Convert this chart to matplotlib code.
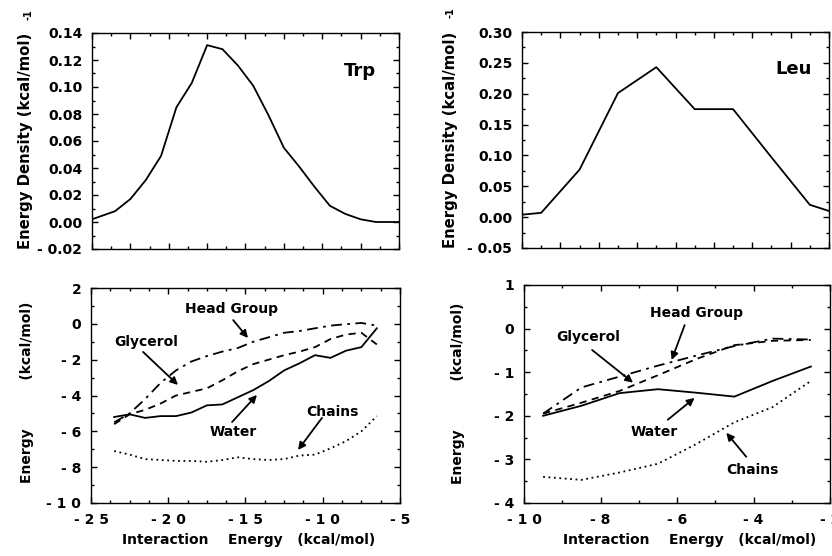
import matplotlib
matplotlib.use("Agg")
import matplotlib.pyplot as plt
from matplotlib.ticker import MultipleLocator, FuncFormatter

# Trp: energy density
trp_x = [-25, -23.5, -22.5, -21.5, -20.5, -19.5, -18.5, -17.5, -16.5, -15.5, -14.5,
         -13.5, -12.5, -11.5, -10.5, -9.5, -8.5, -7.5, -6.5, -5]
trp_density = [0.002, 0.008, 0.017, 0.031, 0.049, 0.085, 0.103, 0.131, 0.128, 0.116, 0.101,
               0.079, 0.055, 0.041, 0.026, 0.012, 0.006, 0.002, 0.0, 0.0]

# Leu: energy density
leu_x = [-10, -9.5, -8.5, -7.5, -6.5, -5.5, -4.5, -3.5, -2.5, -2]
leu_density = [0.004, 0.007, 0.077, 0.201, 0.243, 0.175, 0.175, 0.097, 0.020, 0.010]

# Trp: energy components
trp_ex = [-23.5, -22.5, -21.5, -20.5, -19.5, -18.5, -17.5, -16.5, -15.5,
          -14.5, -13.5, -12.5, -11.5, -10.5, -9.5, -8.5, -7.5, -6.5]
trp_water = [-5.2, -5.05, -5.25, -5.15, -5.15, -4.95, -4.55, -4.5, -4.1,
             -3.7, -3.2, -2.6, -2.2, -1.75, -1.9, -1.5, -1.3, -0.25]
trp_glycerol = [-5.6, -5.05, -4.8, -4.45, -4.0, -3.8, -3.6, -3.15, -2.65,
                -2.25, -2.0, -1.75, -1.55, -1.3, -0.85, -0.6, -0.5, -1.15]
trp_head = [-5.5, -5.0, -4.2, -3.3, -2.6, -2.1, -1.8, -1.55, -1.35,
            -1.0, -0.75, -0.5, -0.4, -0.25, -0.1, -0.02, 0.05, -0.1]
trp_chains = [-7.1, -7.3, -7.55, -7.6, -7.65, -7.65, -7.7, -7.6, -7.45,
              -7.55, -7.6, -7.55, -7.35, -7.3, -6.95, -6.55, -6.0, -5.15]

# Leu: energy components
leu_ex = [-9.5, -8.5, -7.5, -6.5, -5.5, -4.5, -3.5, -2.5]
leu_water = [-2.0, -1.77, -1.48, -1.39, -1.47, -1.56, -1.2, -0.87]
leu_glycerol = [-1.95, -1.7, -1.43, -1.07, -0.7, -0.38, -0.28, -0.26]
leu_head = [-1.95, -1.35, -1.1, -0.85, -0.62, -0.4, -0.23, -0.25]
leu_chains = [-3.4, -3.47, -3.3, -3.1, -2.65, -2.15, -1.8, -1.2]

W, H = 832, 556
FONT = dict(family="DejaVu Sans", weight="bold", size=10)

plt.rcParams.update({
    "font.family": "DejaVu Sans",
    "font.weight": "bold",
    "font.size": 10,
    "axes.linewidth": 1.0,
})


def rect(x0, y0, x1, y1):
    return [x0 / W, 1 - y1 / H, (x1 - x0) / W, (y1 - y0) / H]


def fig_xy(x, y):
    return x / W, 1 - y / H


def int_label(v, pos):
    s = " ".join(str(abs(int(round(v)))))
    return "- " + s if v < -1e-9 else s


def dec_label(v, pos):
    s = f"{abs(v):.2f}"
    return "- " + s if v < -1e-9 else s


def style(ax, xmaj, xmin, ymaj, ymin, yfmt, xlabels):
    ax.xaxis.set_major_locator(MultipleLocator(xmaj))
    ax.xaxis.set_minor_locator(MultipleLocator(xmin))
    ax.yaxis.set_major_locator(MultipleLocator(ymaj))
    ax.yaxis.set_minor_locator(MultipleLocator(ymin))
    ax.yaxis.set_major_formatter(FuncFormatter(yfmt))
    ax.tick_params(which="both", direction="in", top=True, right=True, width=1.0)
    ax.tick_params(which="major", length=4, pad=7)
    ax.tick_params(which="minor", length=2.5)
    if xlabels:
        ax.xaxis.set_major_formatter(FuncFormatter(int_label))
    else:
        ax.set_xticklabels([])
    for lab in ax.get_xticklabels() + ax.get_yticklabels():
        lab.set_fontweight("bold")


def arrow(ax, text, tx, ty, x0, y0, x1, y1):
    ax.text(tx, ty, text, ha="center", va="center", fontdict=FONT)
    ax.annotate("", xy=(x1, y1), xytext=(x0, y0),
                arrowprops=dict(arrowstyle="-|>", color="black", lw=1.3,
                                mutation_scale=11, shrinkA=0, shrinkB=0))


fig = plt.figure(figsize=(W / 100, H / 100), dpi=100)

# top left: Trp density
ax1 = fig.add_axes(rect(92, 33, 399, 249))
ax1.plot(trp_x, trp_density, color="black", lw=1.3)
ax1.set_xlim(-25, -5)
ax1.set_ylim(-0.02, 0.14)
style(ax1, 2.5, 1.25, 0.02, 0.01, dec_label, False)
ax1.text(0.873, 0.826, "Trp", transform=ax1.transAxes, ha="center", va="center",
         fontsize=13, fontweight="bold")

# top right: Leu density
ax2 = fig.add_axes(rect(522, 32, 829, 248))
ax2.plot(leu_x, leu_density, color="black", lw=1.3)
ax2.set_xlim(-10, -2)
ax2.set_ylim(-0.05, 0.30)
style(ax2, 1, 0.5, 0.05, 0.025, dec_label, False)
ax2.text(0.883, 0.829, "Leu", transform=ax2.transAxes, ha="center", va="center",
         fontsize=13, fontweight="bold")

# bottom left: Trp components
ax3 = fig.add_axes(rect(91, 288, 400, 503))
ax3.plot(trp_ex, trp_water, color="black", lw=1.3, ls="-")
ax3.plot(trp_ex, trp_glycerol, color="black", lw=1.3, ls=(0, (4, 3)))
ax3.plot(trp_ex, trp_head, color="black", lw=1.3, ls=(0, (6, 3, 1.5, 3)))
ax3.plot(trp_ex, trp_chains, color="black", lw=1.3, ls=(0, (1, 2)))
ax3.set_xlim(-25, -5)
ax3.set_ylim(-10, 2)
style(ax3, 5, 1.25, 2, 1, int_label, True)
arrow(ax3, "Head Group", -15.9, 0.83, -15.8, 0.21, -14.84, -0.79)
arrow(ax3, "Glycerol", -21.4, -1.01, -21.63, -1.57, -19.37, -3.41)
arrow(ax3, "Water", -15.8, -6.04, -15.87, -5.48, -14.26, -3.97)
arrow(ax3, "Chains", -9.37, -4.92, -10.05, -5.25, -11.6, -7.04)

# bottom right: Leu components
ax4 = fig.add_axes(rect(524, 285, 830, 503))
ax4.plot(leu_ex, leu_water, color="black", lw=1.3, ls="-")
ax4.plot(leu_ex, leu_glycerol, color="black", lw=1.3, ls=(0, (4, 3)))
ax4.plot(leu_ex, leu_head, color="black", lw=1.3, ls=(0, (6, 3, 1.5, 3)))
ax4.plot(leu_ex, leu_chains, color="black", lw=1.3, ls=(0, (1, 2)))
ax4.set_xlim(-10, -2)
ax4.set_ylim(-4, 1)
style(ax4, 2, 1, 1, 0.5, int_label, True)
arrow(ax4, "Head Group", -5.48, 0.36, -5.8, 0.08, -6.14, -0.72)
arrow(ax4, "Glycerol", -8.31, -0.19, -8.22, -0.49, -7.15, -1.24)
arrow(ax4, "Water", -6.6, -2.37, -6.24, -2.09, -5.54, -1.59)
arrow(ax4, "Chains", -4.02, -3.24, -4.19, -2.94, -4.71, -2.39)

# axis labels
for cx, cy in [(26, 141), (451, 140)]:
    fig.text(*fig_xy(cx, cy), "Energy Density (kcal/mol)", rotation=90,
             ha="center", va="center", family="DejaVu Sans", weight="bold",
             size=10.7)
for cx, cy in [(28, 15), (450, 13)]:
    fig.text(*fig_xy(cx, cy), "-1", rotation=90, ha="center", va="center",
             fontsize=7, fontweight="bold")
for cx, cy in [(27, 392), (458, 393)]:
    fig.text(*fig_xy(cx, cy), "Energy          (kcal/mol)", rotation=90,
             ha="center", va="center", fontdict=FONT)
for lx in [122, 563]:
    fig.text(*fig_xy(lx, 540), "Interaction    Energy   (kcal/mol)",
             ha="left", va="center", fontdict=FONT)

fig.savefig("out.png", dpi=100)
